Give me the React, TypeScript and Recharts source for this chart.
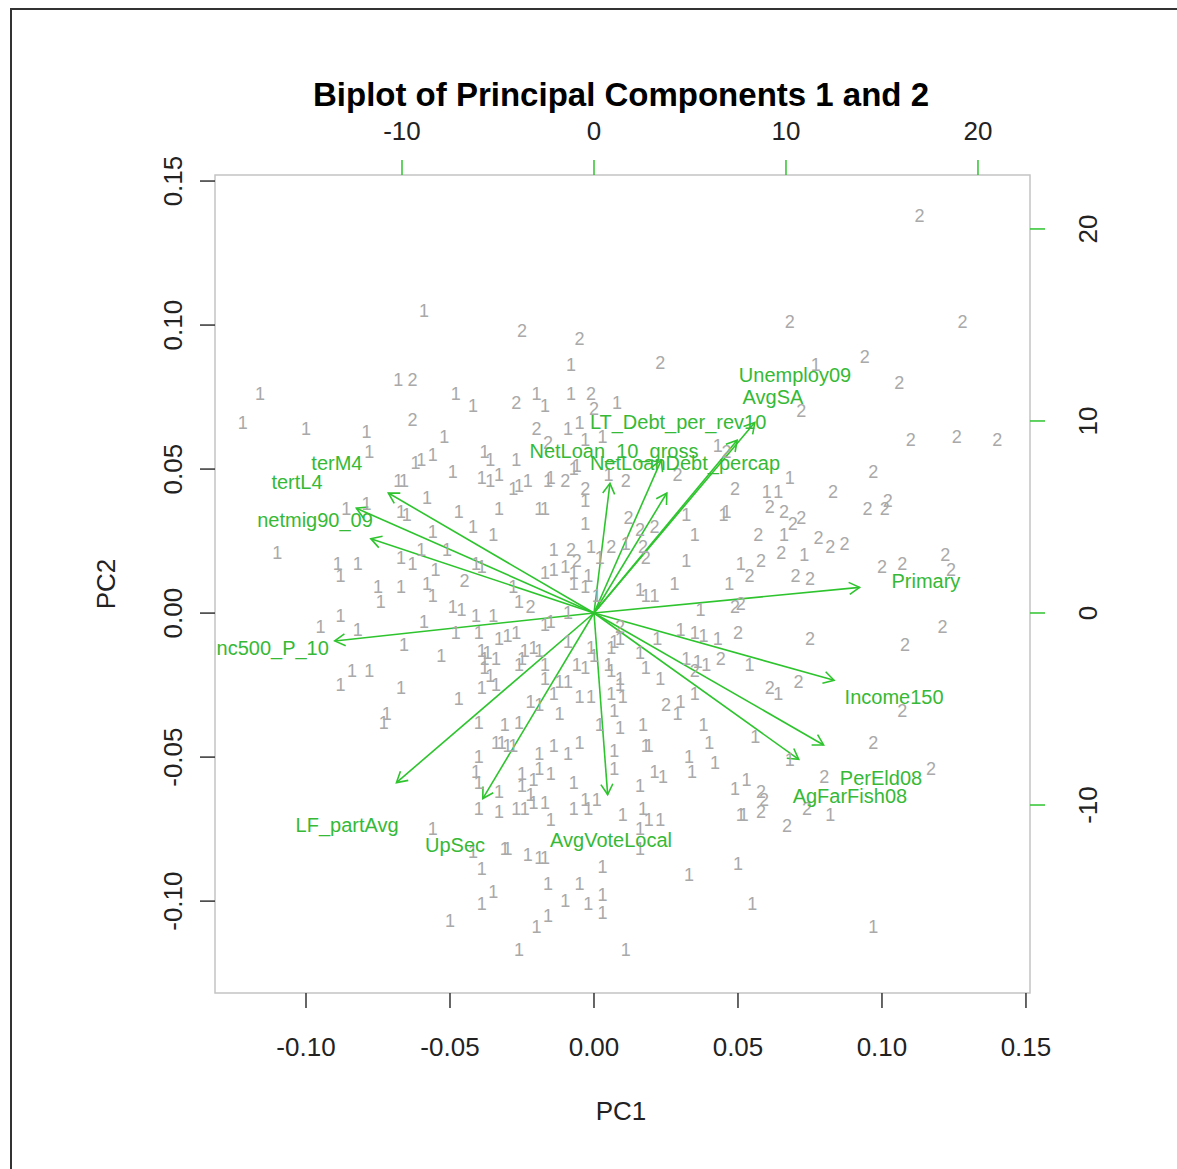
import React from 'react';
import { ScatterChart, Scatter, XAxis, YAxis, ReferenceLine, ReferenceArea } from 'recharts';

const FONT = '"Liberation Sans", Arial, Helvetica, sans-serif';
const GREEN = '#2ec42e';
const LABEL_GREEN = '#36b936';
const POINT_GREY = '#a9a9a9';
const TICK_DARK = '#333333';

// observation scores (PC1, PC2), plotted as their group number
const group1Scores: [number, number][] = [
  [-0.059, 0.105], [-0.068, 0.081], [-0.116, 0.076], [-0.048, 0.076], [-0.042, 0.072], [-0.122, 0.066],
  [-0.1, 0.064], [-0.079, 0.063], [-0.052, 0.061],
  [-0.008, 0.086], [-0.02, 0.076], [-0.017, 0.072], [-0.008, 0.076], [0.008, 0.073], [-0.009, 0.064],
  [-0.005, 0.066], [-0.003, 0.06], [0.003, 0.061], [0.043, 0.058], [-0.006, 0.051], [0.077, 0.086],
  [-0.078, 0.056], [-0.062, 0.052], [-0.06, 0.053], [-0.056, 0.055], [-0.068, 0.046], [-0.066, 0.046],
  [-0.049, 0.049], [-0.038, 0.056], [-0.039, 0.047], [-0.058, 0.04], [-0.086, 0.036], [-0.079, 0.038],
  [-0.067, 0.035], [-0.065, 0.034], [-0.047, 0.035], [-0.042, 0.03], [-0.056, 0.028], [-0.11, 0.021],
  [-0.089, 0.017], [-0.082, 0.017], [-0.067, 0.019], [-0.063, 0.017], [-0.06, 0.022], [-0.051, 0.022],
  [-0.055, 0.015], [-0.058, 0.01], [-0.088, 0.013], [-0.041, 0.017], [-0.039, 0.016], [-0.075, 0.009],
  [-0.067, 0.009], [-0.074, 0.004], [-0.056, 0.006], [-0.049, 0.002], [-0.046, 0.001], [-0.088, -0.001],
  [-0.095, -0.005], [-0.082, -0.006], [-0.059, -0.003], [-0.066, -0.011], [-0.053, -0.015], [-0.039, -0.013],
  [-0.038, -0.016], [-0.084, -0.02], [-0.078, -0.02], [-0.088, -0.025], [-0.067, -0.026], [-0.047, -0.03],
  [-0.039, -0.026], [-0.072, -0.035],
  [-0.036, 0.053], [-0.027, 0.053], [-0.036, 0.046], [-0.033, 0.048], [-0.028, 0.043], [-0.026, 0.044],
  [-0.023, 0.046], [-0.016, 0.046], [-0.015, 0.047], [-0.007, 0.05], [0.005, 0.048], [0.046, 0.035],
  [0.045, 0.034], [-0.033, 0.036], [-0.019, 0.036], [-0.017, 0.036], [-0.003, 0.039], [-0.003, 0.031],
  [0.032, 0.034], [0.035, 0.027], [-0.035, 0.027], [-0.014, 0.022], [-0.001, 0.023], [0.002, 0.019],
  [0.011, 0.024], [0.032, 0.018], [0.051, 0.017], [0.047, 0.01], [-0.017, 0.014], [-0.014, 0.015],
  [-0.01, 0.016], [-0.007, 0.014], [-0.002, 0.013], [-0.028, 0.009], [-0.026, 0.004], [-0.007, 0.01],
  [-0.003, 0.009], [0.016, 0.008], [0.018, 0.006], [0.021, 0.006], [0.028, 0.01], [0.037, 0.001],
  [-0.035, -0.001], [-0.017, -0.004], [-0.015, -0.003], [-0.009, 0.0], [-0.033, -0.009], [-0.03, -0.008],
  [-0.027, -0.007], [-0.024, -0.013], [-0.021, -0.012], [-0.019, -0.013], [-0.037, -0.014], [-0.034, -0.016],
  [-0.009, -0.01], [-0.001, -0.012], [0.006, -0.012], [0.007, -0.01], [0.009, -0.009], [0.016, -0.014],
  [0.022, -0.009], [0.03, -0.006], [0.035, -0.007], [0.038, -0.008], [0.043, -0.009], [0.032, -0.016],
  [0.036, -0.017], [0.039, -0.018], [0.054, -0.018], [-0.026, -0.018], [-0.017, -0.018], [-0.017, -0.023],
  [-0.012, -0.024], [-0.009, -0.024], [-0.006, -0.018], [-0.003, -0.019], [0.005, -0.018], [0.006, -0.02],
  [0.009, -0.023], [0.009, -0.025], [0.018, -0.019], [0.023, -0.023], [0.035, -0.028], [-0.036, -0.022],
  [-0.034, -0.025], [-0.022, -0.031], [-0.019, -0.032], [-0.014, -0.028], [-0.005, -0.029], [-0.001, -0.029],
  [0.006, -0.028], [0.01, -0.029], [0.03, -0.031], [0.029, -0.035], [-0.012, -0.035], [0.007, -0.034],
  [0.001, 0.006],
  [0.068, 0.047], [0.06, 0.042], [0.064, 0.042], [0.066, 0.027], [0.073, 0.02], [0.064, -0.028],
  [-0.073, -0.038], [-0.04, -0.05], [-0.041, -0.055], [-0.04, -0.059], [-0.04, -0.068], [-0.056, -0.075],
  [-0.042, -0.083], [-0.039, -0.089], [-0.039, -0.101], [-0.05, -0.107],
  [-0.031, -0.039], [-0.026, -0.038], [-0.034, -0.045], [-0.032, -0.045], [-0.03, -0.046], [-0.028, -0.046],
  [-0.019, -0.049], [-0.014, -0.046], [-0.009, -0.049], [-0.005, -0.045], [-0.025, -0.056], [-0.021, -0.058],
  [-0.019, -0.054], [-0.015, -0.056], [-0.033, -0.062], [-0.033, -0.069], [-0.022, -0.063], [-0.027, -0.068],
  [-0.024, -0.068], [-0.021, -0.066], [-0.017, -0.066], [-0.015, -0.072], [-0.007, -0.068], [-0.003, -0.065],
  [-0.002, -0.068], [0.001, -0.065], [-0.007, -0.059], [0.002, -0.039], [0.009, -0.04], [0.007, -0.048],
  [0.007, -0.054], [0.017, -0.039], [0.018, -0.046], [0.019, -0.046], [0.021, -0.055], [0.024, -0.057],
  [0.016, -0.06], [0.01, -0.07], [0.017, -0.068], [0.016, -0.075], [0.019, -0.072], [0.023, -0.072],
  [0.016, -0.082], [0.038, -0.039], [0.04, -0.045], [0.033, -0.05], [0.034, -0.055], [0.042, -0.052],
  [-0.031, -0.082], [-0.03, -0.082], [-0.023, -0.084], [-0.019, -0.085], [-0.017, -0.085], [0.003, -0.088],
  [-0.035, -0.097], [-0.016, -0.094], [-0.005, -0.094], [-0.01, -0.1], [-0.002, -0.101], [0.003, -0.098],
  [0.003, -0.104], [-0.016, -0.105], [-0.02, -0.109], [-0.026, -0.117], [0.011, -0.117], [0.033, -0.091],
  [0.049, -0.061], [0.053, -0.058], [0.051, -0.07], [0.052, -0.07], [0.05, -0.087], [0.055, -0.101],
  [0.056, -0.043], [0.068, -0.051], [0.082, -0.07], [0.097, -0.109],
  [-0.041, -0.001], [-0.048, -0.007], [-0.04, -0.007], [-0.025, -0.016], [-0.038, -0.019], [-0.04, -0.038],
  [-0.025, -0.06], [0.0, -0.015],
];

const group2Scores: [number, number][] = [
  [-0.063, 0.081], [-0.063, 0.067], [-0.025, 0.098], [-0.005, 0.095], [0.023, 0.087], [-0.027, 0.073],
  [-0.001, 0.076], [0.0, 0.071], [-0.02, 0.064], [-0.016, 0.059],
  [0.113, 0.138], [0.068, 0.101], [0.128, 0.101], [0.094, 0.089], [0.106, 0.08], [0.072, 0.07],
  [0.11, 0.06], [0.126, 0.061], [0.14, 0.06],
  [-0.045, 0.011], [-0.01, 0.046], [-0.003, 0.043], [0.011, 0.046], [0.029, 0.048], [0.049, 0.043],
  [0.012, 0.033], [0.016, 0.029], [0.021, 0.03], [0.057, 0.027], [-0.008, 0.022], [-0.006, 0.018],
  [0.006, 0.023], [0.017, 0.023], [0.018, 0.019], [0.054, 0.013], [-0.022, 0.002], [0.05, -0.007],
  [0.044, -0.016], [0.035, -0.02], [0.025, -0.032], [0.009, -0.005],
  [0.097, 0.049], [0.083, 0.042], [0.095, 0.036], [0.101, 0.036], [0.102, 0.039], [0.061, 0.037],
  [0.066, 0.035], [0.069, 0.031], [0.072, 0.033], [0.078, 0.026], [0.082, 0.023], [0.087, 0.024],
  [0.065, 0.021], [0.058, 0.018], [0.07, 0.013], [0.075, 0.012], [0.1, 0.016], [0.107, 0.017],
  [0.122, 0.02], [0.124, 0.015], [0.075, -0.009], [0.108, -0.011], [0.121, -0.005], [0.061, -0.026],
  [0.071, -0.024], [0.107, -0.034], [0.097, -0.045], [0.08, -0.057], [0.117, -0.054], [0.058, -0.062],
  [0.059, -0.065], [0.058, -0.069], [0.074, -0.068], [0.067, -0.074], [0.046, 0.056], [0.049, 0.002],
  [0.051, 0.003],
];

// variable loadings (top / right axes); arrows are drawn to 0.8 of the loading, as R's biplot does
const varNames = [
  'terM4', 'tertL4', 'netmig90_09', 'Inc500_P_10', 'LF_partAvg', 'UpSec', 'AvgVoteLocal', 'AgFarFish08',
  'PerEld08', 'Income150', 'Primary', 'Unemploy09', 'AvgSA', 'LT_Debt_per_rev10', 'NetLoan_10_gross',
  'NetLoanDebt_percap',
];
const varLoad1 = [-13.39, -15.47, -14.53, -16.88, -12.86, -7.24, 0.89, 13.33, 14.95, 15.63, 17.29, 10.47, 9.32, 4.38, 1.04, 4.74];
const varLoad2 = [7.81, 6.82, 4.84, -1.82, -11.04, -12.08, -11.82, -9.53, -8.59, -4.38, 1.67, 12.4, 11.25, 9.95, 8.44, 7.81];
const ARROW_SHRINK = 0.8;

const pcTicks = [-0.1, -0.05, 0, 0.05, 0.1, 0.15];
const loadTicks = [-10, 0, 10, 20];
const PC1_DOMAIN: [number, number] = [-0.1316, 0.1514];
const PC2_DOMAIN: [number, number] = [-0.1319, 0.1521];
const LOAD1_DOMAIN: [number, number] = [-19.74, 22.71];
const LOAD2_DOMAIN: [number, number] = [-19.79, 22.81];

const g1 = group1Scores.map(([x, y]) => ({ x, y }));
const g2 = group2Scores.map(([x, y]) => ({ x, y }));
const loadings = varNames.map((name, i) => ({ name, x: varLoad1[i], y: varLoad2[i] }));

const numText = (label: string) => (p: any) => (
  <text
    x={p.cx}
    y={p.cy}
    textAnchor="middle"
    dominantBaseline="central"
    fontSize={18}
    fontFamily={FONT}
    fill={POINT_GREY}
  >
    {label}
  </text>
);

const varLabel = (p: any) => (
  <text
    x={p.cx}
    y={p.cy}
    textAnchor="middle"
    dominantBaseline="central"
    fontSize={20}
    fontFamily={FONT}
    fill={LABEL_GREEN}
  >
    {p.payload.name}
  </text>
);

const arrowShape = (p: any) => {
  const { x1, y1, x2, y2 } = p;
  const ang = Math.atan2(y2 - y1, x2 - x1);
  const len = 12;
  const spread = Math.PI / 6;
  const ax = x2 - len * Math.cos(ang - spread);
  const ay = y2 - len * Math.sin(ang - spread);
  const bx = x2 - len * Math.cos(ang + spread);
  const by = y2 - len * Math.sin(ang + spread);
  return (
    <g>
      <line x1={x1} y1={y1} x2={x2} y2={y2} stroke={GREEN} strokeWidth={1.6} />
      <polyline points={`${ax},${ay} ${x2},${y2} ${bx},${by}`} fill="none" stroke={GREEN} strokeWidth={1.6} />
    </g>
  );
};

const hTick = (fmt: (v: number) => string) => (p: any) => (
  <text x={p.x} y={p.y} textAnchor="middle" fontSize={26} fontFamily={FONT} fill="#222">
    {fmt(p.payload.value)}
  </text>
);

const vTick = (fmt: (v: number) => string) => (p: any) => (
  <text
    x={p.x}
    y={p.y}
    transform={`rotate(-90 ${p.x} ${p.y})`}
    textAnchor="middle"
    fontSize={26}
    fontFamily={FONT}
    fill="#222"
  >
    {fmt(p.payload.value)}
  </text>
);

const fmtPc = (v: number) => v.toFixed(2);
const fmtLoad = (v: number) => String(v);

export default function App() {
  return (
    <div
      style={{
        position: 'absolute',
        left: 0,
        top: 0,
        width: 1177,
        height: 1169,
        overflow: 'hidden',
        background: '#ffffff',
      }}
    >
      <div
        style={{
          position: 'absolute',
          left: 10,
          top: 8,
          width: 1200,
          height: 1200,
          border: '2px solid #333',
          boxSizing: 'border-box',
        }}
      />
      <div style={{ position: 'absolute', left: 0, top: 0 }}>
        <ScatterChart width={1177} height={1169} margin={{ top: 115, right: 67, bottom: 116, left: 115 }}>
          <XAxis
            xAxisId="pc1"
            dataKey="x"
            type="number"
            orientation="bottom"
            height={60}
            domain={PC1_DOMAIN}
            ticks={pcTicks}
            interval={0}
            allowDataOverflow
            axisLine={false}
            tickSize={15}
            tickMargin={48}
            tickLine={{ stroke: TICK_DARK, strokeWidth: 1.5 }}
            tick={hTick(fmtPc)}
          />
          <XAxis
            xAxisId="load"
            dataKey="x"
            type="number"
            orientation="top"
            height={60}
            domain={LOAD1_DOMAIN}
            ticks={loadTicks}
            interval={0}
            allowDataOverflow
            axisLine={false}
            tickSize={15}
            tickMargin={20}
            tickLine={{ stroke: GREEN, strokeWidth: 1.5 }}
            tick={hTick(fmtLoad)}
          />
          <YAxis
            yAxisId="pc2"
            dataKey="y"
            type="number"
            orientation="left"
            width={100}
            domain={PC2_DOMAIN}
            ticks={pcTicks}
            interval={0}
            allowDataOverflow
            axisLine={false}
            tickSize={15}
            tickMargin={18}
            tickLine={{ stroke: TICK_DARK, strokeWidth: 1.5 }}
            tick={vTick(fmtPc)}
          />
          <YAxis
            yAxisId="loadY"
            dataKey="y"
            type="number"
            orientation="right"
            width={80}
            domain={LOAD2_DOMAIN}
            ticks={loadTicks}
            interval={0}
            allowDataOverflow
            axisLine={false}
            tickSize={15}
            tickMargin={52}
            tickLine={{ stroke: GREEN, strokeWidth: 1.5 }}
            tick={vTick(fmtLoad)}
          />
          <ReferenceArea
            xAxisId="pc1"
            yAxisId="pc2"
            x1={PC1_DOMAIN[0]}
            x2={PC1_DOMAIN[1]}
            y1={PC2_DOMAIN[0]}
            y2={PC2_DOMAIN[1]}
            fill="none"
            fillOpacity={0}
            stroke="#c4c4c4"
            strokeWidth={1.5}
            ifOverflow="visible"
          />
          <Scatter data={g1} xAxisId="pc1" yAxisId="pc2" isAnimationActive={false} shape={numText('1')} />
          <Scatter data={g2} xAxisId="pc1" yAxisId="pc2" isAnimationActive={false} shape={numText('2')} />
          {loadings.map((d) => (
            <ReferenceLine
              key={d.name}
              xAxisId="load"
              yAxisId="loadY"
              segment={[
                { x: 0, y: 0 },
                { x: d.x * ARROW_SHRINK, y: d.y * ARROW_SHRINK },
              ]}
              ifOverflow="visible"
              shape={arrowShape}
            />
          ))}
          <Scatter data={loadings} xAxisId="load" yAxisId="loadY" isAnimationActive={false} shape={varLabel} />
        </ScatterChart>
      </div>
      <svg
        width={1177}
        height={1169}
        style={{ position: 'absolute', left: 0, top: 0, pointerEvents: 'none' }}
      >
        <text x={621} y={106} textAnchor="middle" fontSize={33} fontWeight="bold" fontFamily={FONT} fill="#000">
          Biplot of Principal Components 1 and 2
        </text>
        <text x={621} y={1120} textAnchor="middle" fontSize={26} fontFamily={FONT} fill="#222">
          PC1
        </text>
        <text
          x={115}
          y={584}
          transform="rotate(-90 115 584)"
          textAnchor="middle"
          fontSize={26}
          fontFamily={FONT}
          fill="#222"
        >
          PC2
        </text>
      </svg>
    </div>
  );
}
